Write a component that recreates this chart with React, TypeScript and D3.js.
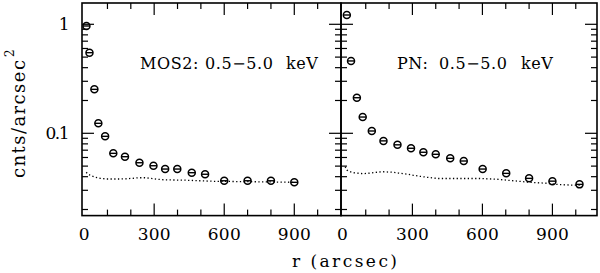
import React, { useEffect, useRef } from 'react'
import * as d3 from 'd3'

// MOS2 surface brightness profile
const mosR = [10, 23, 44, 61, 90, 125, 175, 237, 297, 347, 399, 461, 518, 600, 700, 800, 900]
const mosCts = [0.965, 0.549, 0.253, 0.1235, 0.0938, 0.0655, 0.061, 0.0537, 0.0504, 0.047, 0.047, 0.0435, 0.0421, 0.0367, 0.0367, 0.0367, 0.0355]
// MOS2 background (dotted)
const mosBgR = [9, 18, 30, 47, 68, 97, 125, 154, 183, 211, 232, 261, 282, 311, 339, 382, 439, 496, 553, 600, 700, 800, 900]
const mosBg = [0.0439, 0.0421, 0.0408, 0.0395, 0.0387, 0.0381, 0.0381, 0.0381, 0.0383, 0.0387, 0.0391, 0.0391, 0.0387, 0.0379, 0.0375, 0.0373, 0.0371, 0.0367, 0.0363, 0.0362, 0.036, 0.0358, 0.0355]

// PN surface brightness profile
const pnR = [19, 37, 62, 87, 126, 176, 236, 294, 347, 400, 462, 520, 601, 702, 800, 900, 1016]
const pnCts = [1.217, 0.461, 0.212, 0.141, 0.105, 0.0852, 0.0784, 0.0729, 0.067, 0.0642, 0.059, 0.0557, 0.047, 0.0429, 0.0386, 0.0364, 0.034]
// PN background (dotted)
const pnBgR = [12, 19, 33, 47, 69, 90, 111, 133, 154, 176, 197, 219, 240, 261, 283, 304, 333, 362, 390, 411, 500, 590, 662, 733, 805, 876, 919, 976, 1019]
const pnBg = [0.0494, 0.046, 0.0444, 0.0435, 0.043, 0.0426, 0.043, 0.0435, 0.0441, 0.0444, 0.0441, 0.0439, 0.0432, 0.0426, 0.0421, 0.0412, 0.0403, 0.0395, 0.0389, 0.0385, 0.0385, 0.0385, 0.0379, 0.0367, 0.0355, 0.0348, 0.034, 0.0335, 0.0335]

const xTicks = [0, 300, 600, 900]
const yTickLabels = ['1', '0.1']
const panelLabels = [
  ['MOS2:', '0.5\u22125.0', 'keV'],
  ['PN:', '0.5\u22125.0', 'keV'],
]

const W = 600
const H = 273
const top = 3
const bottom = 215.6
const FONT = 'DejaVu Serif'

const App = () => {
  const ref = useRef<SVGSVGElement>(null)

  useEffect(() => {
    const svg = d3.select(ref.current)
    svg.selectAll('*').remove()

    const y = d3.scaleLog().domain([0.01758, 1.568]).range([bottom, top])

    const panels = [
      { x0: 82, x1: 341, dom: [-9, 1100], r: mosR, v: mosCts, bgR: mosBgR, bg: mosBg, label: panelLabels[0], lx: [140, 205, 286], yLabels: true },
      { x0: 341, x1: 597, dom: [-6, 1091], r: pnR, v: pnCts, bgR: pnBgR, bg: pnBg, label: panelLabels[1], lx: [397, 439, 521], yLabels: false },
    ]

    // minor/major ticks for the log axis
    const yt: { v: number; major: boolean }[] = []
    for (const d of [0.01, 0.1, 1]) {
      for (let k = 1; k <= 9; k++) {
        const v = k * d
        if (v >= 0.01758 && v <= 1.568) yt.push({ v, major: k === 1 })
      }
    }

    panels.forEach(p => {
      const x = d3.scaleLinear().domain(p.dom).range([p.x0, p.x1])
      const g = svg.append('g')

      // dotted background
      const line = d3
        .line<number>()
        .x((d, i) => x(p.bgR[i]))
        .y(d => y(d))
      g.append('path')
        .attr('d', line(p.bg))
        .attr('fill', 'none')
        .attr('stroke', '#000')
        .attr('stroke-width', 1.3)
        .attr('stroke-dasharray', '1.3,2.4')

      // data points
      const pts = g
        .selectAll('g.pt')
        .data(p.v)
        .enter()
        .append('g')
        .attr('transform', (d, i) => `translate(${x(p.r[i])},${y(d)})`)
      pts.append('circle').attr('r', 3.5).attr('fill', 'none').attr('stroke', '#000').attr('stroke-width', 1.5)
      pts.append('line').attr('x1', -3.5).attr('x2', 3.5).attr('stroke', '#000').attr('stroke-width', 1.4)

      // x ticks top + bottom
      const xt = d3.range(0, 1100, 100).filter(v => x(v) <= p.x1 - 2)
      xt.forEach(v => {
        const len = v % 300 === 0 ? 12 : 6
        if (v === 0) return
        g.append('line').attr('x1', x(v)).attr('x2', x(v)).attr('y1', bottom).attr('y2', bottom - len)
          .attr('stroke', '#000').attr('stroke-width', 1.2)
        g.append('line').attr('x1', x(v)).attr('x2', x(v)).attr('y1', top).attr('y2', top + len)
          .attr('stroke', '#000').attr('stroke-width', 1.2)
      })

      // y ticks left + right
      yt.forEach(t => {
        const len = t.major ? 12 : 6
        g.append('line').attr('x1', p.x0).attr('x2', p.x0 + len).attr('y1', y(t.v)).attr('y2', y(t.v))
          .attr('stroke', '#000').attr('stroke-width', 1.2)
        g.append('line').attr('x1', p.x1).attr('x2', p.x1 - len).attr('y1', y(t.v)).attr('y2', y(t.v))
          .attr('stroke', '#000').attr('stroke-width', 1.2)
      })

      // frame
      g.append('rect')
        .attr('x', p.x0).attr('y', top)
        .attr('width', p.x1 - p.x0).attr('height', bottom - top)
        .attr('fill', 'none').attr('stroke', '#000').attr('stroke-width', 1.6)

      // x tick labels
      xTicks.forEach(v => {
        const s = String(v)
        const t = g.append('text')
          .attr('x', x(v)).attr('y', 240)
          .attr('text-anchor', 'middle')
          .attr('font-family', FONT).attr('font-size', 17)
          .text(s)
        if (s.length > 1) t.attr('textLength', 11 * s.length).attr('lengthAdjust', 'spacing')
      })

      if (p.yLabels) {
        ;[1, 0.1].forEach((v, i) => {
          const s = yTickLabels[i]
          const t = g.append('text')
            .attr('x', 69.5).attr('y', y(v) + 6)
            .attr('text-anchor', 'end')
            .attr('font-family', FONT).attr('font-size', 17)
            .text(s)
          if (s.length > 1) t.attr('textLength', 24).attr('lengthAdjust', 'spacing')
        })
      }

      // panel label, word by word
      const lt = g.append('text')
        .attr('y', 68.5)
        .attr('font-family', FONT).attr('font-size', 16)
      p.label.forEach((w, i) => {
        lt.append('tspan').attr('x', p.lx[i]).attr('letter-spacing', 0.6).text(w)
      })
    })

    // axis titles
    svg.append('text')
      .attr('x', 292).attr('y', 267)
      .attr('textLength', 105).attr('lengthAdjust', 'spacing')
      .attr('font-family', FONT).attr('font-size', 17)
      .text('r (arcsec)')

    const yl = svg.append('g').attr('transform', 'translate(25,178) rotate(-90)')
    yl.append('text')
      .attr('x', 0).attr('y', 0)
      .attr('textLength', 118).attr('lengthAdjust', 'spacing')
      .attr('font-family', FONT).attr('font-size', 18)
      .text('cnts/arcsec')
    yl.append('text')
      .attr('x', 121).attr('y', -11)
      .attr('font-family', FONT).attr('font-size', 12)
      .text('2')
  }, [])

  return (
    <svg
      ref={ref}
      width={W}
      height={H}
      style={{ position: 'absolute', left: 0, top: 0, background: '#fff' }}
    />
  )
}

export default App
